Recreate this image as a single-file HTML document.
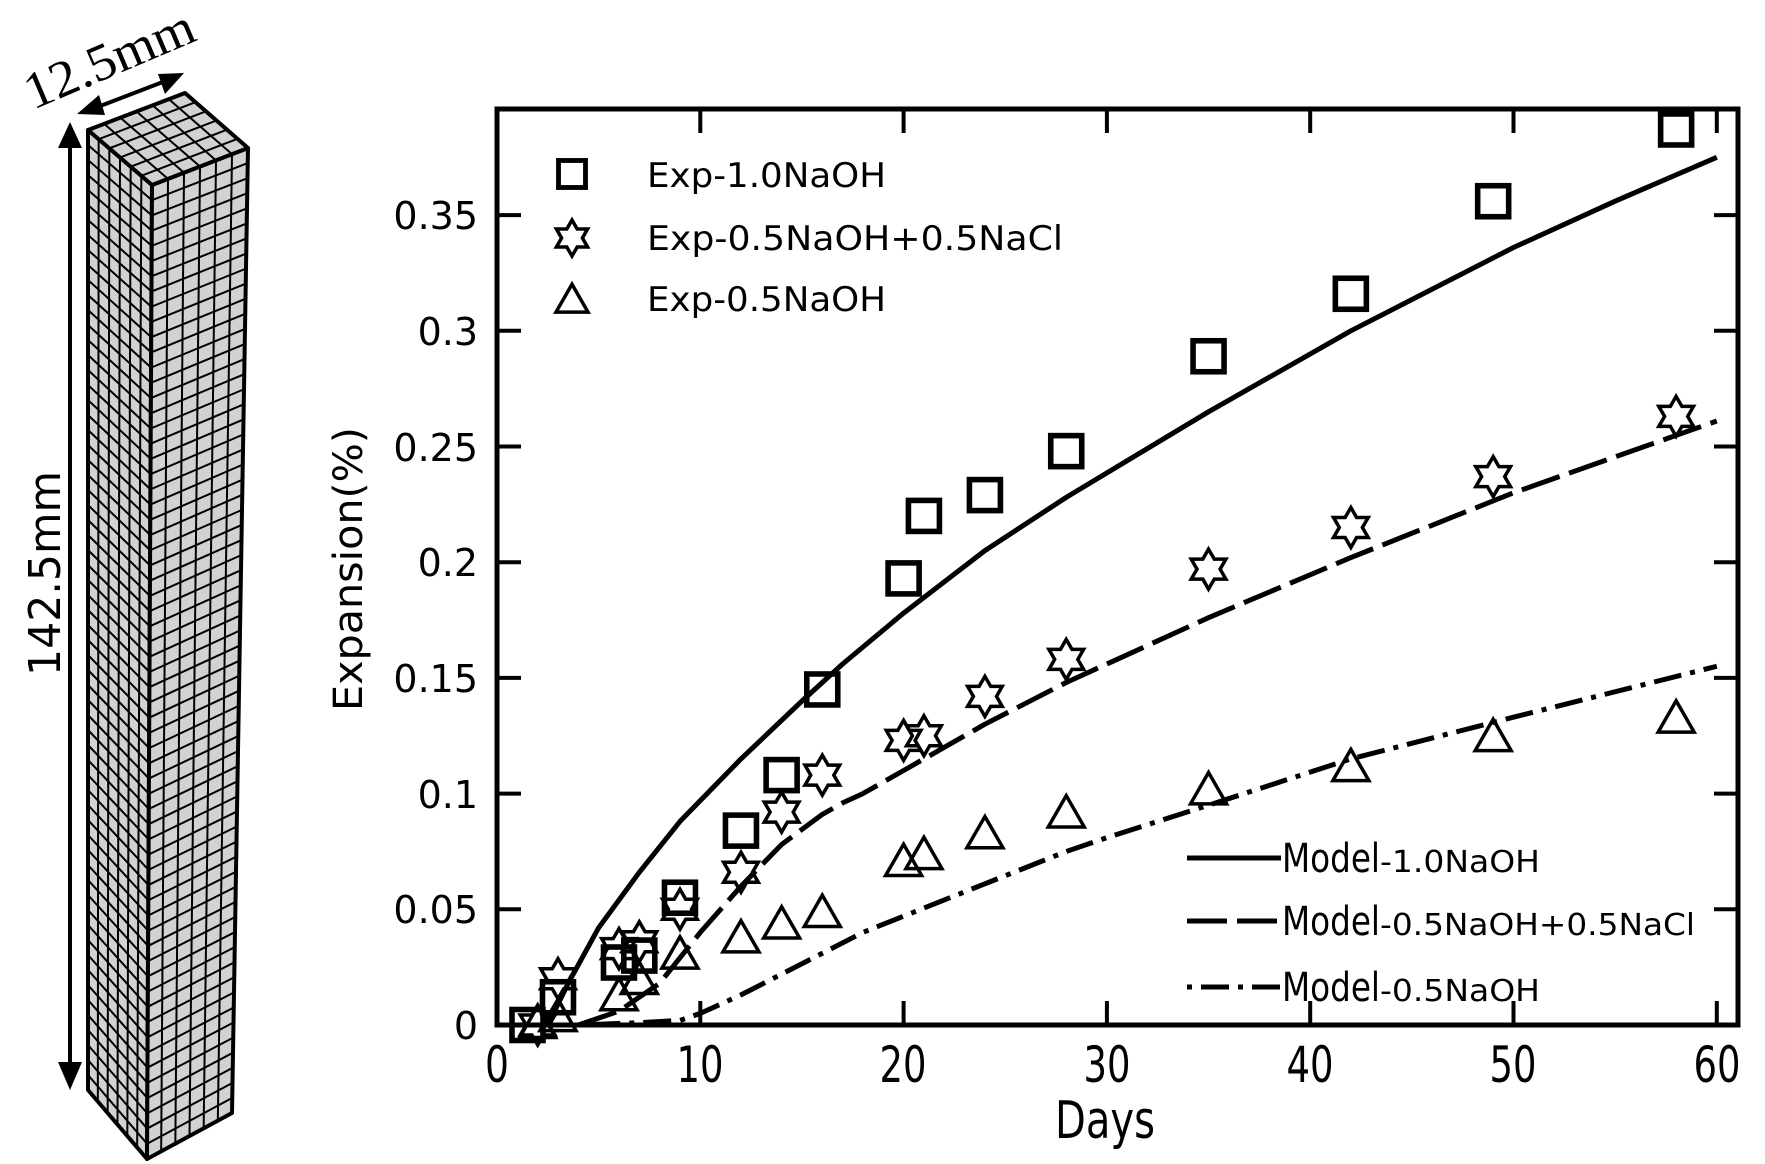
<!DOCTYPE html>
<html><head><meta charset="utf-8"><style>
html,body{margin:0;padding:0;background:#fff;}
svg{display:block;}
text{font-family:"DejaVu Sans","Liberation Sans",sans-serif;fill:#000;}
</style></head><body>
<svg id="s" width="1765" height="1164" viewBox="0 0 1765 1164" xmlns="http://www.w3.org/2000/svg">
<g id="prism"></g>
<g stroke="#000" stroke-width="4" fill="none">
<line x1="70" y1="140" x2="70" y2="1075"/>
<line x1="95" y1="108" x2="168" y2="80"/>
</g>
<g fill="#000">
<polygon points="70,122 58,148 82,148"/>
<polygon points="70,1090 58,1062 82,1062"/>
<polygon points="77,114 99,95 105,115"/>
<polygon points="184,73 158,74 165,94"/>
</g>
<text x="0" y="0" transform="translate(33,110) rotate(-23)" style="font-family:'Liberation Serif',serif" font-size="52" textLength="180" lengthAdjust="spacingAndGlyphs">12.5mm</text>
<text x="0" y="0" transform="translate(60,676) rotate(-90)" font-size="44" textLength="205" lengthAdjust="spacingAndGlyphs">142.5mm</text>

<rect x="497" y="109" width="1241" height="916" fill="none" stroke="#000" stroke-width="5"/>
<g id="ticks" stroke="#000" stroke-width="4"></g>
<g font-size="38" text-anchor="end" id="yl"></g>
<g font-size="50" text-anchor="middle">
<text x="497" y="1082" textLength="24" lengthAdjust="spacingAndGlyphs">0</text>
<text x="700" y="1082" textLength="47" lengthAdjust="spacingAndGlyphs">10</text>
<text x="903" y="1082" textLength="47" lengthAdjust="spacingAndGlyphs">20</text>
<text x="1107" y="1082" textLength="47" lengthAdjust="spacingAndGlyphs">30</text>
<text x="1310" y="1082" textLength="47" lengthAdjust="spacingAndGlyphs">40</text>
<text x="1513" y="1082" textLength="47" lengthAdjust="spacingAndGlyphs">50</text>
<text x="1717" y="1082" textLength="47" lengthAdjust="spacingAndGlyphs">60</text>
</g>
<text x="1055" y="1138" font-size="52" textLength="100" lengthAdjust="spacingAndGlyphs">Days</text>
<text x="0" y="0" transform="translate(362,711) rotate(-90)" font-size="40" textLength="284" lengthAdjust="spacingAndGlyphs">Expansion(%)</text>

<g id="curves" fill="none" stroke="#000" stroke-width="5"></g>
<g id="marks" fill="none" stroke="#000"></g>

<g font-size="34">
<text x="647" y="187" textLength="239" lengthAdjust="spacingAndGlyphs">Exp-1.0NaOH</text>
<text x="647" y="250" textLength="416" lengthAdjust="spacingAndGlyphs">Exp-0.5NaOH+0.5NaCl</text>
<text x="647" y="311" textLength="239" lengthAdjust="spacingAndGlyphs">Exp-0.5NaOH</text>
</g>
<g stroke="#000" stroke-width="5">
<line x1="1187" y1="858" x2="1281" y2="858"/>
<line x1="1187" y1="921" x2="1281" y2="921" stroke-dasharray="40,10"/>
<line x1="1187" y1="987" x2="1281" y2="987" stroke-dasharray="5,9,28,9"/>
</g>
<g>
<text x="1282" y="872" font-size="40" textLength="98" lengthAdjust="spacingAndGlyphs">Model</text>
<text x="1380" y="872" font-size="30" textLength="160" lengthAdjust="spacingAndGlyphs">-1.0NaOH</text>
<text x="1282" y="935" font-size="40" textLength="98" lengthAdjust="spacingAndGlyphs">Model</text>
<text x="1380" y="935" font-size="30" textLength="315" lengthAdjust="spacingAndGlyphs">-0.5NaOH+0.5NaCl</text>
<text x="1282" y="1001" font-size="40" textLength="98" lengthAdjust="spacingAndGlyphs">Model</text>
<text x="1380" y="1001" font-size="30" textLength="160" lengthAdjust="spacingAndGlyphs">-0.5NaOH</text>
</g>
<g font-size="38" text-anchor="end">
<text x="478" y="1039">0</text>
<text x="478" y="923">0.05</text>
<text x="478" y="808">0.1</text>
<text x="478" y="692">0.15</text>
<text x="478" y="576">0.2</text>
<text x="478" y="461">0.25</text>
<text x="478" y="345">0.3</text>
<text x="478" y="229">0.35</text>
</g>
</svg>
<script>
var NS="http://www.w3.org/2000/svg";
function el(p,t,a){var e=document.createElementNS(NS,t);for(var k in a)e.setAttribute(k,a[k]);p.appendChild(e);return e;}
function X(d){return 497+20.33*d;}function Y(v){return 1025-2314*v;}
var P=document.getElementById('prism');
function lerp(a,b,t){return[a[0]+(b[0]-a[0])*t,a[1]+(b[1]-a[1])*t];}
function face(p0,p1,p2,p3,nu,nv){
 el(P,'polygon',{points:[p0,p1,p2,p3].map(function(p){return p.join(',')}).join(' '),fill:'#d2d2d2',stroke:'none'});
 for(var i=1;i<nu;i++){var t=i/nu;var a=lerp(p0,p1,t),b=lerp(p3,p2,t);el(P,'line',{x1:a[0],y1:a[1],x2:b[0],y2:b[1],stroke:'#000','stroke-width':2});}
 for(var j=1;j<nv;j++){var t=j/nv;var a=lerp(p0,p3,t),b=lerp(p1,p2,t);el(P,'line',{x1:a[0],y1:a[1],x2:b[0],y2:b[1],stroke:'#000','stroke-width':2});}
 el(P,'polygon',{points:[p0,p1,p2,p3].map(function(p){return p.join(',')}).join(' '),fill:'none',stroke:'#000','stroke-width':4,'stroke-linejoin':'round'});
}
var A=[88,130],B=[185,93],C=[248,148],D=[152,185],A2=[88,1090],C2=[232,1113],D2=[147,1159];
face(A,D,D2,A2,6,64);
face(D,C,C2,D2,6,64);
face(A,B,C,D,6,6);
var T=document.getElementById('ticks');
for(var d=10;d<=60;d+=10){el(T,'line',{x1:X(d),y1:1025,x2:X(d),y2:1001});el(T,'line',{x1:X(d),y1:109,x2:X(d),y2:133});}
for(var i=1;i<=7;i++){var v=i*0.05;el(T,'line',{x1:497,y1:Y(v),x2:521,y2:Y(v)});el(T,'line',{x1:1738,y1:Y(v),x2:1714,y2:Y(v)});}
var Cg=document.getElementById('curves');
function curve(pts,dash){var s=pts.map(function(p){return X(p[0]).toFixed(1)+','+Y(p[1]).toFixed(1)}).join(' ');var a={points:s,'stroke-linejoin':'round'};if(dash)a['stroke-dasharray']=dash;el(Cg,'polyline',a);}
curve([[2.5,0],[3.5,0.018],[5,0.042],[7,0.066],[9,0.088],[12,0.115],[15,0.14],[17,0.156],[20,0.178],[24,0.205],[28,0.228],[35,0.265],[42,0.3],[50,0.336],[55,0.356],[60,0.375]]);
curve([[4,0],[6,0.006],[8,0.018],[10,0.04],[12,0.06],[14,0.078],[16,0.091],[17,0.096],[18,0.1],[20,0.11],[24,0.13],[28,0.148],[35,0.176],[42,0.202],[50,0.23],[60,0.261]],"40,10");
curve([[4,0],[7,0.001],[9,0.002],[10,0.005],[12,0.013],[14,0.022],[16,0.031],[18,0.04],[20,0.047],[24,0.061],[28,0.075],[30,0.081],[35,0.095],[42,0.115],[50,0.133],[60,0.155]],"5,9,28,9");
var M=document.getElementById('marks');
function sq(x,y,s){el(M,'rect',{x:x-s/2,y:y-s/2,width:s,height:s,'stroke-width':s*0.18});}
function star(x,y,r){var p=[];for(var i=0;i<12;i++){var a=Math.PI/2+i*Math.PI/6;var rr=i%2?r/Math.sqrt(3):r;p.push((x+rr*Math.cos(a)).toFixed(1)+','+(y-rr*Math.sin(a)).toFixed(1));}el(M,'polygon',{points:p.join(' '),'stroke-width':3.5});}
function tri(x,y,w){var h=w*0.87;el(M,'polygon',{points:[x,y-h*0.6,x-w/2,y+h*0.4,x+w/2,y+h*0.4].join(','),'stroke-width':3.5});}
var sqd=[[1.5,0],[3,0.012],[6,0.027],[7,0.03],[9,0.055],[12,0.084],[14,0.108],[16,0.145],[20,0.193],[21,0.22],[24,0.229],[28,0.248],[35,0.289],[42,0.316],[49,0.356],[58,0.387]];
var std=[[2,0],[3,0.02],[6,0.033],[7,0.036],[9,0.05],[12,0.066],[14,0.092],[16,0.108],[20,0.123],[21,0.125],[24,0.142],[28,0.158],[35,0.197],[42,0.215],[49,0.237],[58,0.263]];
var trd=[[2,0],[3,0.003],[6,0.012],[7,0.019],[9,0.03],[12,0.037],[14,0.043],[16,0.048],[20,0.07],[21,0.073],[24,0.082],[28,0.091],[35,0.101],[42,0.111],[49,0.124],[58,0.132]];
sqd.forEach(function(p){sq(X(p[0]),Y(p[1]),31);});
std.forEach(function(p){star(X(p[0]),Y(p[1]),20);});
trd.forEach(function(p){tri(X(p[0]),Y(p[1]),36);});
sq(572,174,27);star(572,238,18);tri(572,301,32);
</script>
</body></html>
